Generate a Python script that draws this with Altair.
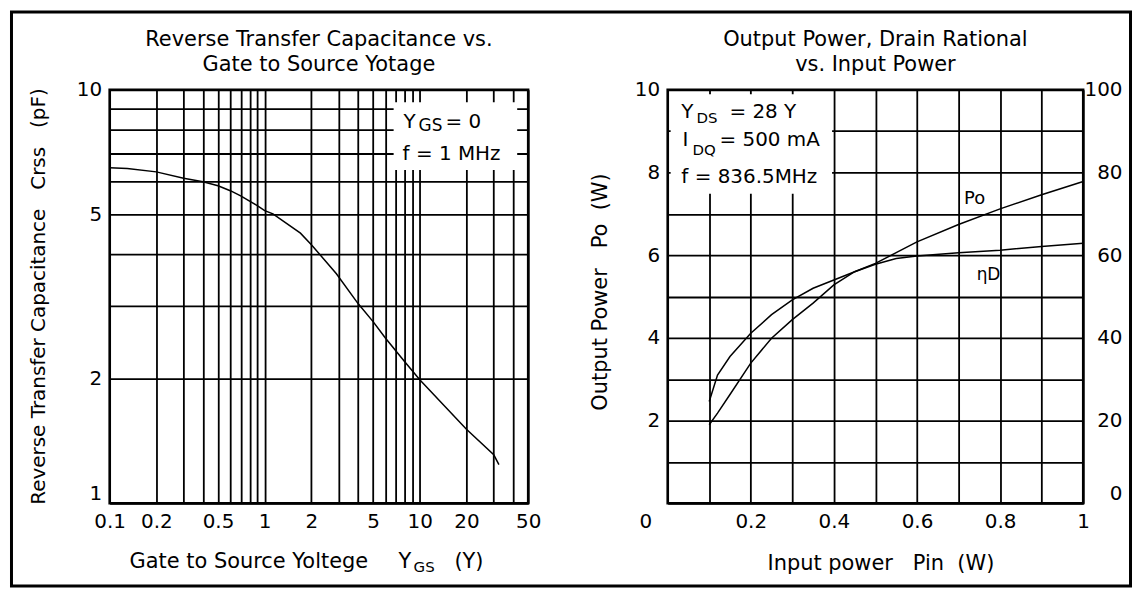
import json
import altair as alt
import pandas as pd

FONT = "DejaVu Sans"
NB = "\u00a0"

# ---------------- data: left chart (Crss vs VGS) ----------------
vgs = [0.1, 0.13, 0.2, 0.3, 0.4, 0.5, 0.6, 0.7, 0.9, 1.0, 1.13, 1.7, 2.0, 2.9, 4.0, 5.0, 6.0, 8.0, 10.0, 20.0, 30.0, 32.4]
crss = [6.48, 6.45, 6.33, 6.11, 5.99, 5.86, 5.70, 5.54, 5.24, 5.10, 5.01, 4.50, 4.22, 3.59, 3.04, 2.75, 2.51, 2.20, 1.99, 1.51, 1.31, 1.24]
left_x_grid = [0.1, 0.2, 0.3, 0.4, 0.5, 0.6, 0.7, 0.8, 0.9, 1, 2, 3, 4, 5, 6, 7, 8, 9, 10, 20, 30, 40, 50]
left_x_labels = [0.1, 0.2, 0.5, 1, 2, 5, 10, 20, 50]
left_y_grid = [1, 2, 3, 4, 5, 6, 7, 8, 9, 10]
left_y_labels = [1, 2, 5, 10]

# ---------------- data: right chart (Po, etaD vs Pin) ----------------
pin = [0.1, 0.12, 0.15, 0.2, 0.25, 0.3, 0.35, 0.4, 0.45, 0.5, 0.55, 0.6, 0.7, 0.8, 0.9, 1.0]
po = [1.90, 2.18, 2.63, 3.39, 3.99, 4.44, 4.84, 5.28, 5.60, 5.80, 6.06, 6.32, 6.74, 7.12, 7.46, 7.78]
eta = [24.6, 31.0, 35.5, 41.1, 45.6, 49.2, 52.0, 54.0, 56.0, 57.8, 59.2, 59.8, 60.6, 61.2, 62.1, 62.9]
right_x_grid = [0, 0.1, 0.2, 0.3, 0.4, 0.5, 0.6, 0.7, 0.8, 0.9, 1]
right_x_labels = [0.2, 0.4, 0.6, 0.8, 1]
right_y_grid = [0, 1, 2, 3, 4, 5, 6, 7, 8, 9, 10]
right_y_labels = [2, 4, 6, 8, 10]
right_y2_labels = [0, 20, 40, 60, 80, 100]

one = pd.DataFrame({"k": [0]})


def only(labels):
    return f"indexof({json.dumps(labels)}, datum.value) >= 0 ? datum.label : ''"


def sp(s):
    # keep runs of spaces visible in SVG text
    return s.replace("  ", NB + NB).replace(NB + " ", NB + NB)


def txt(s, x, y, size=20, align="left", angle=0):
    props = dict(text=sp(s), font=FONT, fontSize=size, align=align,
                 baseline="middle", color="black")
    if angle:
        props["angle"] = angle
    return alt.Chart(one).mark_text(**props).encode(x=alt.value(x), y=alt.value(y))


def white_box(x, x2, y, y2):
    return alt.Chart(one).mark_rect(color="white").encode(
        x=alt.value(x), x2=alt.value(x2), y=alt.value(y), y2=alt.value(y2))


def base_baseline(low):
    return {"condition": {"test": f"datum.value == {low}", "value": "bottom"}, "value": "middle"}


W_L, W_R, H = 420, 417, 415
TOTAL_H = 579

# ---------------- left chart ----------------
left_df = pd.DataFrame({"vgs": vgs, "crss": crss})
left_line = alt.Chart(left_df).mark_line(color="black", strokeWidth=1.5).encode(
    x=alt.X("vgs:Q",
            scale=alt.Scale(type="log", domain=[0.1, 50], nice=False),
            axis=alt.Axis(values=left_x_grid, format="~g", labelExpr=only(left_x_labels),
                          title=None, labelOverlap=False, labelFlush=False)),
    y=alt.Y("crss:Q",
            scale=alt.Scale(type="log", domain=[1, 10], nice=False),
            axis=alt.Axis(values=left_y_grid, format="~g", labelExpr=only(left_y_labels),
                          title=None, labelOverlap=False, labelBaseline=base_baseline(1))),
)

frame = alt.Chart(one).mark_rect(fillOpacity=0, stroke="black", strokeWidth=3).encode(
    x=alt.value(-98.5), x2=alt.value(1024.5), y=alt.value(-78), y2=alt.value(TOTAL_H - 79.5 - 1.5))

left = alt.layer(
    white_box(285, 409, 12.5, 80.5),
    left_line,
    txt("Reverse Transfer Capacitance vs.", W_L / 2, -50, 21, "center"),
    txt("Gate to Source Yotage", W_L / 2, -25, 21, "center"),
    txt("Reverse Transfer Capacitance   Crss   (pF)", -71, H / 2, 20, "center", 270),
    txt("Gate to Source Yoltege", 20, 474, 21),
    txt("Y", 290, 474, 21),
    txt("GS", 305, 479, 15),
    txt("(Y)", 346, 474, 21),
    txt("Y", 295, 32.5, 20),
    txt("GS", 310, 36, 17),
    txt("= 0", 337, 32.5, 20),
    txt("f = 1 MHz", 294, 64.5, 20),
    frame,
).properties(width=W_L, height=H)

# ---------------- right chart ----------------
right_df = pd.DataFrame({"pin": pin, "po": po, "eta": eta})
rx = alt.X("pin:Q", scale=alt.Scale(domain=[0, 1], nice=False),
           axis=alt.Axis(values=right_x_grid, format=".1~f", labelExpr=only(right_x_labels),
                         title=None, labelOverlap=False, labelFlush=False))

po_line = alt.Chart(right_df).mark_line(color="black", strokeWidth=1.5).encode(
    x=rx,
    y=alt.Y("po:Q", scale=alt.Scale(domain=[0, 10], nice=False),
            axis=alt.Axis(values=right_y_grid, format="d", labelExpr=only(right_y_labels),
                          title=None, orient="left", labelOverlap=False)),
)
eta_line = alt.Chart(right_df).mark_line(color="black", strokeWidth=1.5).encode(
    x=rx,
    y=alt.Y("eta:Q", scale=alt.Scale(domain=[0, 100], nice=False),
            axis=alt.Axis(values=right_y2_labels, format="d", grid=False, title=None,
                          orient="right", labelAlign="right", labelPadding=39,
                          labelOverlap=False, labelBaseline=base_baseline(0))),
)

inner = alt.layer(
    white_box(3, 165, 4.5, 104.5),
    po_line,
    txt("Output Power, Drain Rational", W_R / 2, -50, 21, "center"),
    txt("vs. Input Power", W_R / 2, -25, 21, "center"),
    txt("Output Power   Po  (W)", -67, 203, 21, "center", 270),
    txt("Input power   Pin  (W)", 214, 475.5, 21, "center"),
    txt("0", -22, 433.5, 20, "center"),
    txt("Y", 13.7, 22.5, 20),
    txt("DS", 29, 28.5, 15),
    txt("= 28 Y", 62, 22.5, 20),
    txt("I", 15, 50, 20),
    txt("DQ", 25, 60, 15),
    txt("= 500 mA", 52, 50, 20),
    txt("f = 836.5MHz", 13.7, 87.5, 20),
    txt("Po", 308, 109.5, 18, "center"),
    txt("ηD", 322, 185.5, 17, "center"),
)

right = alt.layer(inner, eta_line).resolve_scale(y="independent").properties(width=W_R, height=H)

chart = (
    alt.hconcat(left, right, spacing=140, bounds="flush")
    .properties(padding=0, background="white")
    .configure_axis(labelFont=FONT, labelFontSize=20, labelColor="black", ticks=False,
                    domain=False, gridColor="black", gridWidth=1.8, gridOpacity=1,
                    labelPadding=8)
    .configure_view(stroke="black", strokeWidth=2.5)
)

chart.save("out.html", embed_options={"renderer": "svg", "actions": False})
